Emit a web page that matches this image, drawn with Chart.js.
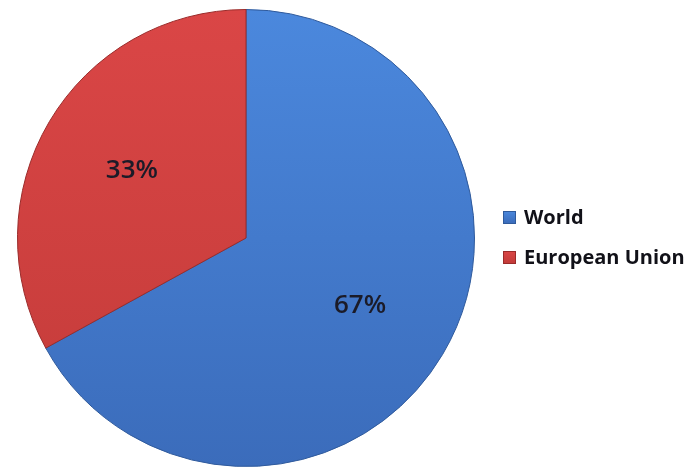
<!DOCTYPE html>
<html>
<head>
<meta charset="utf-8">
<script src="https://cdn.jsdelivr.net/npm/chart.js@4"></script>
<style>
  body { margin: 0; background: #fff; }
  #wrap { width: 695px; height: 470px; }
</style>
</head>
<body>
<div id="wrap"><canvas id="pizza" width="695" height="470"></canvas></div>
<script>
const categorias = ["World", "European Union"];
const valores = [67, 33];
const rotulos = ["67%", "33%"];

const coresTopo = ["#4b88dd", "#da4646"];
const coresBase = ["#3b6cbb", "#c33b39"];
const bordas = ["#2f5a9c", "#9a2b2a"];

function gradiente(ctx, i) {
  const area = ctx.chart.chartArea;
  if (!area) return coresTopo[i];
  const g = ctx.chart.ctx.createLinearGradient(0, area.top, 0, area.bottom);
  g.addColorStop(0, coresTopo[i]);
  g.addColorStop(1, coresBase[i]);
  return g;
}

// rótulos de porcentagem dentro das fatias
const rotulosFatia = {
  id: "rotulosFatia",
  afterDatasetsDraw(chart) {
    const ctx = chart.ctx;
    const meta = chart.getDatasetMeta(0);
    ctx.save();
    ctx.font = "600 26px 'Open Sans'";
    ctx.fillStyle = "#1b1b28";
    ctx.textAlign = "center";
    ctx.textBaseline = "middle";
    meta.data.forEach((arco, i) => {
      const p = arco.getProps(["x", "y", "startAngle", "endAngle", "outerRadius"], true);
      const meio = (p.startAngle + p.endAngle) / 2;
      const d = p.outerRadius * 0.58;
      ctx.fillText(rotulos[i], p.x + Math.cos(meio) * d, p.y + Math.sin(meio) * d);
    });
    ctx.restore();
  }
};

// legenda à direita
const legenda = {
  id: "legenda",
  afterDraw(chart) {
    const ctx = chart.ctx;
    ctx.save();
    ctx.font = "bold 20px 'Open Sans'";
    ctx.textBaseline = "middle";
    categorias.forEach((nome, i) => {
      const y = 217 + i * 40;
      const g = ctx.createLinearGradient(0, y - 6, 0, y + 6);
      g.addColorStop(0, coresTopo[i]);
      g.addColorStop(1, coresBase[i]);
      ctx.fillStyle = g;
      ctx.fillRect(503, y - 6, 13, 13);
      ctx.strokeStyle = bordas[i];
      ctx.lineWidth = 1;
      ctx.strokeRect(503.5, y - 5.5, 12, 12);
      ctx.fillStyle = "#111118";
      ctx.fillText(nome, 524, y + 1);
    });
    ctx.restore();
  }
};

new Chart(document.getElementById("pizza"), {
  type: "pie",
  data: {
    labels: categorias,
    datasets: [{
      data: valores,
      backgroundColor: (ctx) => gradiente(ctx, ctx.dataIndex),
      borderColor: bordas,
      borderWidth: 1
    }]
  },
  options: {
    responsive: false,
    animation: false,
    layout: { padding: { left: 17, right: 220, top: 9, bottom: 3 } },
    plugins: {
      legend: { display: false },
      tooltip: { enabled: false }
    }
  },
  plugins: [rotulosFatia, legenda]
});
</script>
</body>
</html>
